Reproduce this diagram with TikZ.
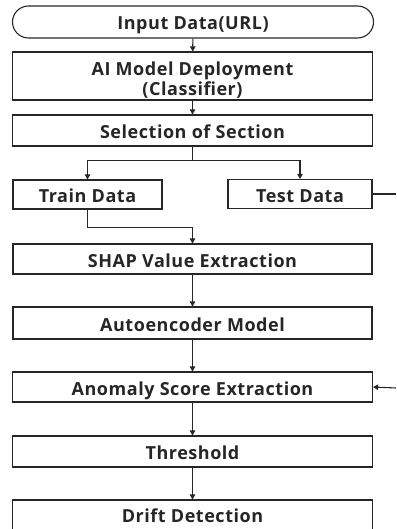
\documentclass[tikz,border=0pt]{standalone}
\usepackage{fontspec}
\setmainfont{Open Sans}[LetterSpace=3]
\usetikzlibrary{arrows.meta}
\begin{document}
\begin{tikzpicture}[x=1pt,y=-1pt,
  line width=1.1pt,
  every node/.style={font=\bfseries\fontsize{18}{20}\selectfont, text=black!85, inner sep=0pt, align=center},
  stepbox/.style={draw=black!85, line width=1.1pt, rectangle, text height=16pt, text depth=0pt},
  arr/.style={draw=black!85, -{Triangle[width=5.5pt,length=5pt]}},
  ln/.style={draw=black!85}]
\useasboundingbox (0,0) rectangle (396,529);
\clip (0,0) rectangle (396,529);
% flowchart boxes
\node[stepbox, rounded corners=16pt, minimum width=361pt, minimum height=32pt] (inp) at (193,22) {Input Data(URL)};
\node[draw=black!85, line width=1.1pt, rectangle, minimum width=360pt, minimum height=48pt,
  label={[name=ailabel, yshift=-4.5pt]center:AI Model Deployment\\(Classifier)}] (ai) at (192.5,76) {};
\node[stepbox, minimum width=360pt, minimum height=31pt] (sel) at (192.5,130.5) {Selection of Section};
\node[stepbox, minimum width=149pt, minimum height=29pt] (train) at (87.5,194.5) {Train Data};
\node[stepbox, minimum width=144pt, minimum height=29pt] (test) at (300,194) {Test Data};
\node[stepbox, minimum width=359pt, minimum height=30pt] (shap) at (192.5,259) {SHAP Value Extraction};
\node[stepbox, minimum width=359pt, minimum height=32pt] (auto) at (192.5,323) {Autoencoder Model};
\node[stepbox, minimum width=360pt, minimum height=30pt] (anom) at (192.5,387) {Anomaly Score Extraction};
\node[stepbox, minimum width=360pt, minimum height=31pt] (thr) at (192.5,451.5) {Threshold};
\node[stepbox, text depth=12pt, minimum width=360pt, minimum height=40pt] (drift) at (192.5,520) {Drift Detection};
% free ends at the right margin
\coordinate (testout) at (396,194);
\coordinate (anomin) at (396,388);
% connectors
\draw[arr] (inp) -- (ai);
\draw[arr] (ai) -- (sel);
\draw[arr] (sel.south) -- ++(0,14) -| (train.north);
\draw[arr] (sel.south) -- ++(0,14) -| (test.north);
\draw[arr] (train.south) -- ++(0,18) -| (shap.north);
\draw[arr] (shap) -- (auto);
\draw[arr] (auto) -- (anom);
\draw[arr] (anom) -- (thr);
\draw[arr] (thr) -- (drift);
\draw[ln] (test.east) -- (testout);
\draw[arr] (anomin) -- (anom.east);
\end{tikzpicture}
\end{document}
